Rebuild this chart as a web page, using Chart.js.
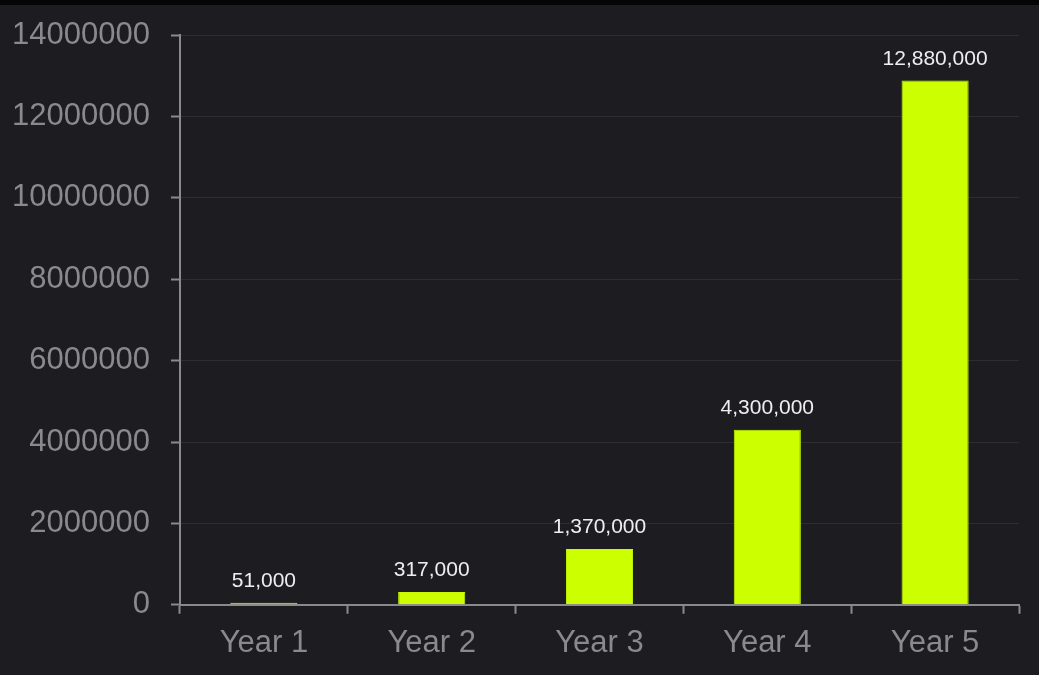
<!DOCTYPE html>
<html>
<head>
<meta charset="utf-8">
<script src="https://cdn.jsdelivr.net/npm/chart.js@4.4.1/dist/chart.umd.min.js"></script>
<style>
  html, body { margin: 0; padding: 0; background: #050505; overflow: hidden; }
  #wrap { position: absolute; top: 5px; left: 0; width: 1039px; height: 670px; background: #1c1c21; }
</style>
</head>
<body>
<div id="wrap"><canvas id="chart"></canvas></div>
<script>
const years = ["Year 1", "Year 2", "Year 3", "Year 4", "Year 5"];
const revenue = [51000, 317000, 1370000, 4300000, 12880000];

const axisGray = "#8a8a8e";

// draws the value above each bar
const valueLabels = {
  id: "valueLabels",
  afterDatasetsDraw(chart) {
    const ctx = chart.ctx;
    const meta = chart.getDatasetMeta(0);
    ctx.save();
    ctx.font = "21px 'Liberation Sans', Arial, sans-serif";
    ctx.fillStyle = "#eeeeee";
    ctx.textAlign = "center";
    ctx.textBaseline = "bottom";
    meta.data.forEach((bar, i) => {
      ctx.fillText(revenue[i].toLocaleString("en-US"), bar.x, bar.y - 11);
    });
    ctx.restore();
  }
};

new Chart(document.getElementById("chart"), {
  type: "bar",
  data: {
    labels: years,
    datasets: [{
      data: revenue,
      backgroundColor: "#ccff00",
      borderColor: "#c6fa00",
      borderWidth: 1,
      barPercentage: 0.5,
      categoryPercentage: 0.8
    }]
  },
  options: {
    responsive: true,
    maintainAspectRatio: false,
    animation: false,
    layout: { padding: { top: 30, right: 20, left: 0, bottom: 2 } },
    plugins: { legend: { display: false }, tooltip: { enabled: false } },
    scales: {
      x: {
        border: { color: axisGray, width: 2 },
        grid: { drawOnChartArea: false, tickColor: axisGray, tickLength: 9, tickWidth: 2 },
        ticks: { color: axisGray, padding: 11, font: { family: "'Liberation Sans', Arial, sans-serif", size: 31 } }
      },
      y: {
        min: 0,
        max: 14000000,
        afterFit: s => { s.width = 180; s.paddingTop = 0; s.paddingBottom = 0; },
        border: { color: axisGray, width: 2 },
        grid: { color: "#2d2d32", tickColor: axisGray, tickLength: 9, tickWidth: 2 },
        ticks: {
          stepSize: 2000000,
          color: axisGray,
          padding: 21,
          font: { family: "'Liberation Sans', Arial, sans-serif", size: 31 },
          callback: v => String(v)
        }
      }
    }
  },
  plugins: [valueLabels]
});
</script>
</body>
</html>
